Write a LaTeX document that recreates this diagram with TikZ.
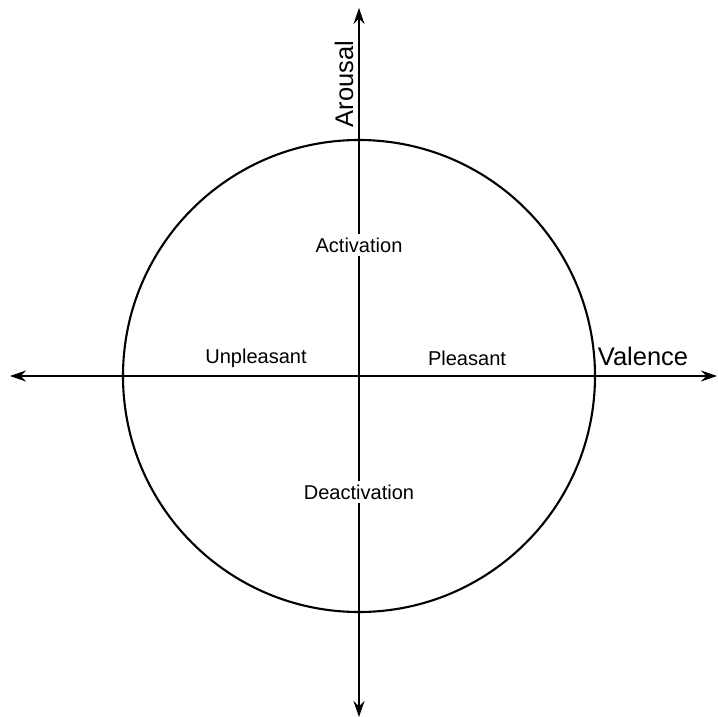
\documentclass[tikz,border=0pt]{standalone}
\usepackage{fontspec}
\setmainfont{Liberation Sans}
\usepackage{tikz}
\usetikzlibrary{arrows.meta,positioning}

\begin{document}
\begin{tikzpicture}[
    x=0.02cm, y=-0.02cm,
    axis/.style={{Stealth[length=3.2mm,width=2.2mm]}-{Stealth[length=3.2mm,width=2.2mm]}, line width=0.85pt},
    ring/.style={line width=1.2pt},
    axislabel/.style={font=\fontsize{14.5}{16}\selectfont, inner sep=1pt},
    quad/.style={font=\fontsize{11.4}{13}\selectfont, inner sep=1pt},
    pole/.style={quad, fill=white, inner sep=2pt},
]
    \useasboundingbox (0,0) rectangle (718,717);

    \coordinate (centre) at (359,376);
    \coordinate (top) at (359,8);
    \coordinate (bottom) at (359,717);
    \coordinate (left) at (10,376);
    \coordinate (right) at (717,376);

    \draw[ring] (centre) circle[radius=236];
    \draw[axis] (left) -- (right);
    \draw[axis] (bottom) -- (top);

    \node[axislabel, rotate=90] (arousal) at (344,84) {Arousal};
    \node[axislabel] (valence) at (643,356) {Valence};
    \node[quad] (unpleasant) at (256,358) {Unpleasant};
    \node[quad] (pleasant) at (467,358) {Pleasant};
    \node[pole] (activation) at (359,245) {Activation};
    \node[pole] (deactivation) at (359,492) {Deactivation};
\end{tikzpicture}
\end{document}
